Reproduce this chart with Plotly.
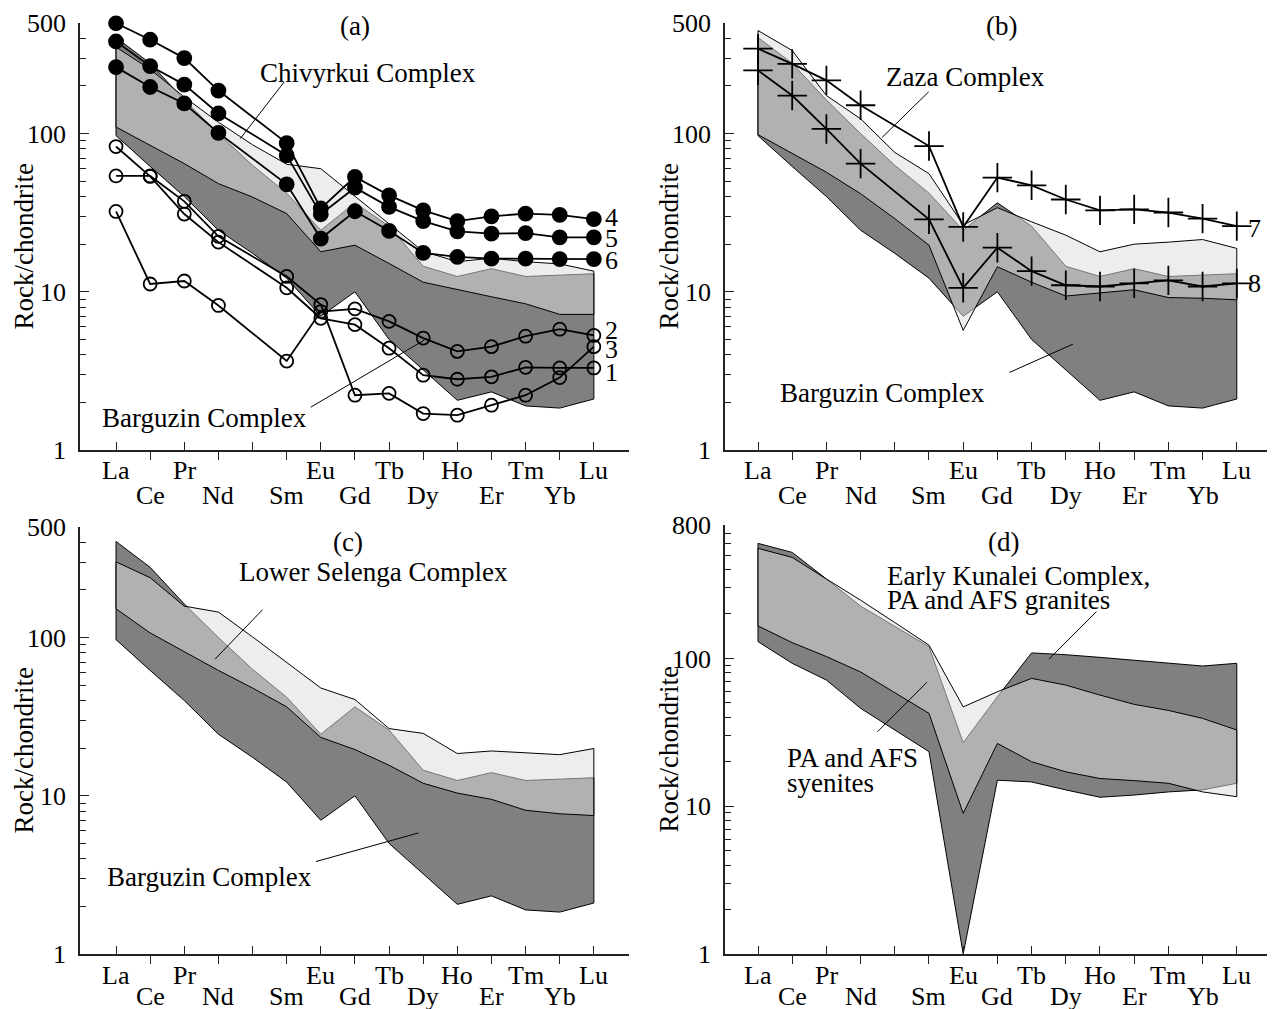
import math
import plotly.graph_objects as go

# ---------------- data ----------------
ELEMENTS = ["La", "Ce", "Pr", "Nd", "Pm", "Sm", "Eu", "Gd", "Tb", "Dy", "Ho", "Er", "Tm", "Yb", "Lu"]
TICK_LABELS = ["La", "Ce", "Pr", "Nd", "", "Sm", "Eu", "Gd", "Tb", "Dy", "Ho", "Er", "Tm", "Yb", "Lu"]
X = list(range(len(ELEMENTS)))

# Barguzin Complex field (shared by panels a, b, c)
BARGUZIN_TOP = [405, 278, 163, 100, 63, 42, 24.5, 36.5, 26, 14.5, 12.5, 14, 12.5, 12.7, 13]
BARGUZIN_BOT = [97, 62, 40, 24.5, 17.5, 12.2, 7, 10, 5, 3.2, 2.06, 2.33, 1.9, 1.84, 2.1]

# Chivyrkui Complex field (a)
CHIV_TOP = [352, 255, 170, 118, 85, 64, 60, 40, 27, 18, 15.5, 16.3, 15.5, 15, 13.5]
CHIV_BOT = [110, 84, 64.6, 48.3, 39.7, 31.2, 17.9, 19.7, 15.1, 11.5, 10.3, 9.3, 8.4, 7.2, 7.2]

# Zaza Complex field (b)
ZAZA_TOP = [448, 335, 174, 124, 76, 55.8, 26.5, 34, 27.7, 22.8, 17.9, 20, 20.6, 21.4, 18.8]
ZAZA_BOT = [98.5, 74.7, 57, 41.7, 29, 19.7, 5.7, 14.4, 11.5, 9.4, 9.8, 10.3, 9.2, 9.1, 8.9]

# Lower Selenga Complex field (c)
SELENGA_TOP = [301, 239, 158, 145, 101, 70, 48, 40.6, 26.6, 24.8, 18.5, 19.2, 18.7, 18.2, 19.9]
SELENGA_BOT = [152, 107, 81, 62, 48, 36.5, 23.4, 19.6, 15.6, 12, 10.4, 9.5, 8.1, 7.7, 7.5]

# Early Kunalei Complex (d): PA and AFS granites / syenites
GRANITE_TOP = [601, 522, 345, 226, 165, 120, 26.9, 55, 109, 106, 101.7, 97.5, 92.7, 88.9, 92.7]
GRANITE_BOT = [130, 92.7, 71.4, 46, 32.8, 23.4, 1.0, 15, 14.6, 12.9, 11.5, 11.9, 12.5, 12.9, 14.3]
SYENITE_TOP = [556, 483, 345, 248, 175, 123, 47, 59.5, 73.3, 66, 56.5, 48.9, 44.5, 39.3, 32.8]
SYENITE_BOT = [166, 128, 103, 81, 58.6, 42.5, 8.95, 26.6, 20, 17.1, 15.4, 14.9, 14.3, 12.5, 11.6]

# Samples (Pm not analysed -> None)
S1 = [82.8, 53.6, 31, 20.6, None, 10.6, 6.8, 6.2, 4.4, 2.97, 2.8, 2.9, 3.33, 3.3, 3.3]
S2 = [32.2, 11.2, 11.7, 8.2, None, 3.65, 7.5, 7.8, 6.5, 5.1, 4.2, 4.5, 5.24, 5.8, 5.3]
S3 = [54, 54, 37.3, 22.4, None, 12.5, 8.3, 2.22, 2.28, 1.7, 1.66, 1.92, 2.22, 2.87, 4.5]
S4 = [498, 392, 300, 187, None, 87, 33.6, 53.2, 40.7, 32.7, 28, 30, 31.2, 30.6, 28.8]
S5 = [382, 267, 204, 134, None, 72.8, 30.9, 45.5, 34.4, 28, 24.1, 23.3, 23.5, 22.1, 22.1]
S6 = [263, 197, 155, 101, None, 47.8, 21.7, 32.3, 24.3, 17.6, 16.6, 16.2, 16.2, 16.1, 16.1]
S7 = [344, 276, 217, 151, None, 83.4, 25.7, 52.7, 47.1, 38.3, 32.7, 33.2, 31.7, 29, 26]
S8 = [251, 174, 107, 64.6, None, 28.7, 10.6, 19, 13.5, 11, 10.8, 11.3, 11.8, 10.8, 11.3]

Y_TICKS_500 = [1, 10, 100, 500]
Y_TICKS_800 = [1, 10, 100, 800]

# ---------------- styling ----------------
W, H = 1275, 1009
OFF = 8  # page body margin: figure origin sits 8 px right/down of the screen origin
FONT = "Liberation Serif"
DARK = "#808080"
LIGHT_OVER = "rgba(219,223,221,0.528)"  # light field drawn over the dark one -> medium in overlap
TICK_SIZE = 26
TEXT_SIZE = 27

def fx(px):
    return (px - OFF) / W

def fy(py):
    return 1 - (py - OFF) / H

fig = go.Figure()

panels = {
    "a": dict(xa="x", ya="y", xd=(80, 629), yd=(23, 450), xr=[-1.056, 15.03], top=500, low=45),
    "b": dict(xa="x2", ya="y2", xd=(725, 1272), yd=(23, 450), xr=[-0.965, 15.03], top=500, low=45),
    "c": dict(xa="x3", ya="y3", xd=(80, 629), yd=(527, 954), xr=[-1.056, 15.03], top=500, low=42),
    "d": dict(xa="x4", ya="y4", xd=(725, 1272), yd=(525, 954), xr=[-0.965, 15.03], top=800, low=42),
}

def add_field(p, top, bot, fill):
    xs = X + X[::-1] + [X[0]]
    ys = top + bot[::-1] + [top[0]]
    fig.add_trace(go.Scatter(x=xs, y=ys, mode="lines", fill="toself", fillcolor=fill,
                             line=dict(color="black", width=1), hoverinfo="skip",
                             showlegend=False, xaxis=p["xa"], yaxis=p["ya"]))

def add_sample(p, vals, symbol, size, color_fill, lw=1.8):
    fig.add_trace(go.Scatter(x=X, y=vals, mode="lines+markers", connectgaps=True, cliponaxis=False,
                             line=dict(color="black", width=lw),
                             marker=dict(symbol=symbol, size=size, color=color_fill,
                                         line=dict(color="black", width=1.8)),
                             showlegend=False, xaxis=p["xa"], yaxis=p["ya"]))

pa, pb, pc, pd = panels["a"], panels["b"], panels["c"], panels["d"]

# fields
add_field(pa, BARGUZIN_TOP, BARGUZIN_BOT, DARK)
add_field(pa, CHIV_TOP, CHIV_BOT, LIGHT_OVER)
add_field(pb, BARGUZIN_TOP, BARGUZIN_BOT, DARK)
add_field(pb, ZAZA_TOP, ZAZA_BOT, LIGHT_OVER)
add_field(pc, BARGUZIN_TOP, BARGUZIN_BOT, DARK)
add_field(pc, SELENGA_TOP, SELENGA_BOT, LIGHT_OVER)
add_field(pd, GRANITE_TOP, GRANITE_BOT, DARK)
add_field(pd, SYENITE_TOP, SYENITE_BOT, LIGHT_OVER)

# samples
for s in (S1, S2, S3):
    add_sample(pa, s, "circle-open", 13, "black")
for s in (S4, S5, S6):
    add_sample(pa, s, "circle", 14, "black")
for s in (S7, S8):
    add_sample(pb, s, "cross-thin-open", 21, "black")

annotations = []

def txt(text, px, py, size=TEXT_SIZE, xanchor="center"):
    annotations.append(dict(text=text, x=fx(px), y=fy(py), xref="paper", yref="paper",
                            showarrow=False, xanchor=xanchor, yanchor="middle",
                            font=dict(family=FONT, size=size, color="black")))

def pointer(p, xi, val, ax, ay):
    annotations.append(dict(text="", x=xi, y=math.log10(val), xref=p["xa"], yref=p["ya"],
                            showarrow=True, arrowhead=0, arrowwidth=1, arrowcolor="black",
                            ax=ax, ay=ay, standoff=0, startstandoff=0))

def end_label(p, text, vals, yshift=0):
    annotations.append(dict(text=text, x=X[-1], y=math.log10(vals[-1]), xref=p["xa"], yref=p["ya"],
                            showarrow=False, xanchor="left", yanchor="middle", xshift=9, yshift=yshift,
                            font=dict(family=FONT, size=TICK_SIZE, color="black")))

# axes
layout_axes = {}
for key, p in panels.items():
    n = "" if p["xa"] == "x" else p["xa"][1:]
    x0, x1 = p["xd"]
    yt, yb = p["yd"]
    top = p["top"]
    majors = Y_TICKS_500 if top == 500 else Y_TICKS_800
    minors = [m * d for d in (1, 10, 100) for m in range(2, 10) if m * d < top]
    layout_axes["xaxis" + n] = dict(
        domain=[fx(x0), min(fx(x1), 1.0)], range=p["xr"], anchor="y" + n, automargin=False,
        showline=True, linecolor="#222", linewidth=1.5, showgrid=False, zeroline=False,
        tickmode="array", tickvals=[i for i in X if i % 2 == 0], ticks="inside", ticklen=8,
        tickwidth=1.3, tickcolor="#222", showticklabels=False,
        minor=dict(tickmode="array", tickvals=[i for i in X if i % 2 == 1], ticks="outside",
                   ticklen=8, tickwidth=1.3, tickcolor="#222"),
    )
    layout_axes["yaxis" + n] = dict(
        domain=[fy(yb), fy(yt)], type="log", range=[0, math.log10(top)],
        anchor="x" + n, automargin=False, showline=True, linecolor="#222", linewidth=1.5,
        showgrid=False, zeroline=False, tickmode="array", tickvals=majors,
        ticktext=[str(v) for v in majors],
        ticks="inside", ticklen=9, tickwidth=1.3, tickcolor="#222", ticklabelstandoff=7,
        tickfont=dict(family=FONT, size=TICK_SIZE, color="black"),
        minor=dict(tickmode="array", tickvals=minors, ticks="inside", ticklen=6,
                   tickwidth=1.2, tickcolor="#222"),
    )
    # element labels (two staggered rows)
    for i, lab in enumerate(TICK_LABELS):
        if not lab:
            continue
        row_y = yb + (21 if i % 2 == 0 else p["low"])
        annotations.append(dict(text=lab, x=i, xref=p["xa"], y=fy(row_y), yref="paper",
                                showarrow=False, xanchor="center", yanchor="middle",
                                font=dict(family=FONT, size=TICK_SIZE, color="black")))
    # y title
    txt("Rock/chondrite", x0 - 57, (yt + yb) / 2 + 10, size=27)
    annotations[-1]["textangle"] = -90

# panel texts
txt("(a)", 355, 26)
txt("Chivyrkui Complex", 368, 73)
txt("Barguzin Complex", 204, 418)
txt("(b)", 1001, 26)
txt("Zaza Complex", 965, 77)
txt("Barguzin Complex", 882, 393)
txt("(c)", 348, 542)
txt("Lower Selenga Complex", 373, 572)
txt("Barguzin Complex", 210, 877)
txt("(d)", 1003, 542)
txt("Early Kunalei Complex,", 885, 576, xanchor="left")
txt("PA and AFS granites", 885, 600, xanchor="left")
txt("PA and AFS", 785, 758, xanchor="left")
txt("syenites", 785, 783, xanchor="left")

# leader lines
pointer(pa, 3.64, 93, 45, -58)
pointer(pa, 9.03, 4.95, -115, 68)
pointer(pb, 3.63, 94.6, 48, -47)
pointer(pb, 9.21, 4.67, -65, 29)
pointer(pc, 2.9, 73, 49, -51)
pointer(pc, 8.86, 5.82, -104, 29)
pointer(pd, 8.51, 99, 49, -49)
pointer(pd, 4.94, 69, -51, 51)

# sample numbers
end_label(pa, "4", S4, yshift=2)
end_label(pa, "5", S5, yshift=-1)
end_label(pa, "6", S6, yshift=-1)
end_label(pa, "2", S2, yshift=5)
end_label(pa, "3", S3, yshift=-3)
end_label(pa, "1", S1, yshift=-5)
end_label(pb, "7", S7, yshift=-2)
end_label(pb, "8", S8)

fig.update_layout(width=W, height=H, margin=dict(l=0, r=0, t=0, b=0, autoexpand=False),
                  paper_bgcolor="white", plot_bgcolor="white", showlegend=False,
                  annotations=annotations, **layout_axes)

fig.write_html("out.html")
